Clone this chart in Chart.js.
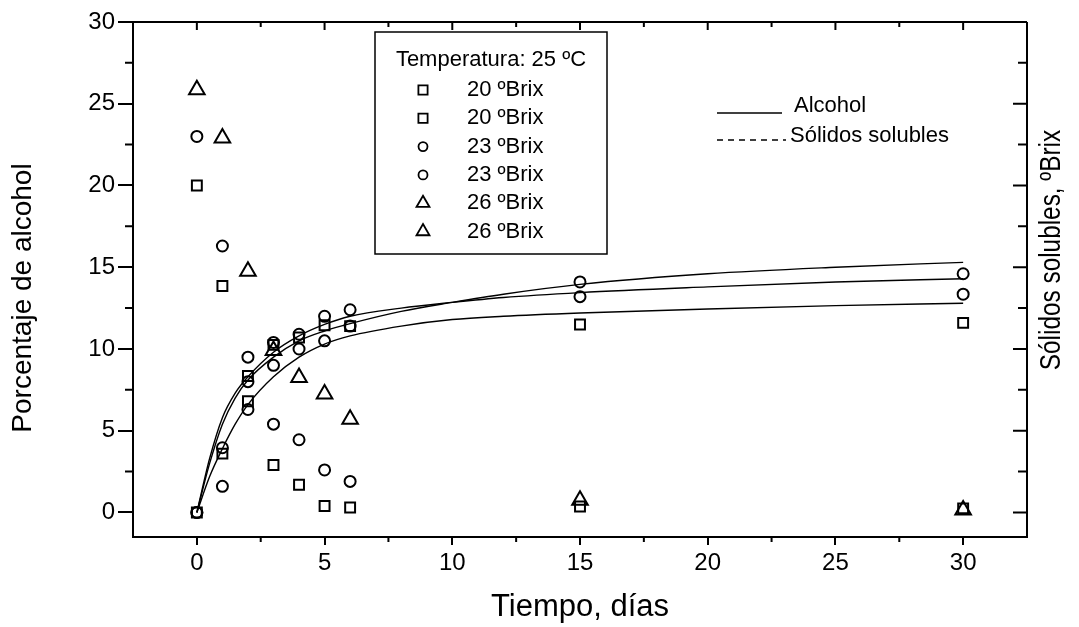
<!DOCTYPE html>
<html>
<head>
<meta charset="utf-8">
<script src="https://cdn.jsdelivr.net/npm/chart.js"></script>
<style>
  html, body { margin: 0; padding: 0; background: #fff; }
  #wrap { width: 1079px; height: 627px; }
</style>
</head>
<body>
<div id="wrap"><canvas id="fermChart" width="1079" height="627"></canvas></div>
<script>
// sampling days (tiempo, días)
var days = [0, 1, 2, 3, 4, 5, 6, 15, 30];

var alc20 = [0, 3.6, 8.35, 10.25, 10.7, 11.45, 11.4, 11.5, 11.6];
var sol20 = [20, 13.85, 6.8, 2.9, 1.7, 0.4, 0.3, 0.37, 0.25];
var alc23 = [0, 3.96, 9.5, 10.4, 10.9, 12.0, 12.4, 14.1, 14.6];
var sol23 = [23, 16.3, 6.3, 5.4, 4.45, 2.6, 1.9, null, null];
var alc26 = [0, 1.6, 8.0, 9.0, 10.0, 10.5, 11.4, 13.2, 13.35];
var sol26 = [25.85, 22.9, 14.75, 9.9, 8.25, 7.25, 5.7, 0.75, 0.15];

// fitted alcohol curves, read at these days
var curveDays = [0, 0.5, 1, 1.5, 2, 3, 4, 5, 6, 8, 10, 12, 15, 20, 25, 30];
var curve20 = [0, 2.2, 3.9, 5.4, 6.6, 8.3, 9.5, 10.3, 10.8, 11.4, 11.8, 12.0, 12.2, 12.45, 12.65, 12.8];
var curve23 = [0, 3.3, 5.8, 7.3, 8.3, 9.8, 10.8, 11.5, 12.0, 12.5, 12.85, 13.15, 13.45, 13.8, 14.1, 14.3];
var curve26 = [0, 3.0, 5.4, 7.0, 8.1, 9.5, 10.5, 11.1, 11.55, 12.3, 12.85, 13.35, 13.95, 14.6, 15.0, 15.3];

var xTicks = [0, 5, 10, 15, 20, 25, 30];
var xTickLabels = ['0', '5', '10', '15', '20', '25', '30'];
var yTicks = [0, 5, 10, 15, 20, 25, 30];
var yTickLabels = ['0', '5', '10', '15', '20', '25', '30'];

var legendTitle = 'Temperatura: 25 ºC';
var legendLabels = ['20 ºBrix', '20 ºBrix', '23 ºBrix', '23 ºBrix', '26 ºBrix', '26 ºBrix'];
var legendMarks = ['rect', 'rect', 'circle', 'circle', 'triangle', 'triangle'];
var lineLabels = ['Alcohol', 'Sólidos solubles'];

var FONT = '"Liberation Sans", Arial, sans-serif';

function pts(xs, ys) {
  return xs.map(function (x, i) { return { x: x, y: ys[i] }; })
           .filter(function (p) { return p.y !== null; });
}

function markers(label, ys, style, r) {
  return {
    type: 'scatter', label: label, data: pts(days, ys),
    pointStyle: style, pointRadius: r, pointHoverRadius: r,
    pointBorderWidth: 2, pointBorderColor: '#000',
    pointBackgroundColor: 'rgba(0,0,0,0)', showLine: false
  };
}

function curve(label, ys) {
  return {
    type: 'line', label: label, data: pts(curveDays, ys),
    borderColor: '#000', borderWidth: 1.4, pointRadius: 0,
    cubicInterpolationMode: 'monotone', fill: false
  };
}

function minorOf(ticks) {
  var out = [];
  for (var i = 0; i < ticks.length - 1; i++) out.push((ticks[i] + ticks[i + 1]) / 2);
  return out;
}

var extras = {
  id: 'extras',
  afterDraw: function (chart) {
    var ctx = chart.ctx, a = chart.chartArea;
    var xs = chart.scales.x, ys = chart.scales.y;
    ctx.save();
    ctx.strokeStyle = '#000';
    ctx.fillStyle = '#000';

    // top and right frame
    ctx.lineWidth = 2;
    ctx.beginPath();
    ctx.moveTo(a.left, a.top); ctx.lineTo(a.right, a.top);
    ctx.moveTo(a.right, a.top); ctx.lineTo(a.right, a.bottom);
    ctx.stroke();

    // ticks on every side
    var xMinor = minorOf(xTicks), yMinor = minorOf(yTicks);
    ctx.beginPath();
    xTicks.forEach(function (v) {
      var px = xs.getPixelForValue(v);
      ctx.moveTo(px, a.top); ctx.lineTo(px, a.top + 8);
    });
    xMinor.forEach(function (v) {
      var px = xs.getPixelForValue(v);
      ctx.moveTo(px, a.top); ctx.lineTo(px, a.top + 5);
      ctx.moveTo(px, a.bottom); ctx.lineTo(px, a.bottom + 5);
    });
    yTicks.forEach(function (v) {
      var py = ys.getPixelForValue(v);
      ctx.moveTo(a.right, py); ctx.lineTo(a.right - 14, py);
    });
    yMinor.forEach(function (v) {
      var py = ys.getPixelForValue(v);
      ctx.moveTo(a.right, py); ctx.lineTo(a.right - 9, py);
      ctx.moveTo(a.left, py); ctx.lineTo(a.left - 8, py);
    });
    ctx.stroke();

    // axis titles (rotated, reading upwards)
    ctx.textAlign = 'center';
    ctx.textBaseline = 'middle';
    ctx.save();
    ctx.translate(23, 298);
    ctx.rotate(-Math.PI / 2);
    ctx.font = '28px ' + FONT;
    ctx.fillText('Porcentaje de alcohol', 0, 0);
    ctx.restore();

    ctx.save();
    ctx.translate(1052, 250);
    ctx.rotate(-Math.PI / 2);
    ctx.scale(0.84, 1);
    ctx.font = '29px ' + FONT;
    ctx.fillText('Sólidos solubles, ºBrix', 0, 0);
    ctx.restore();

    // marker legend box
    ctx.lineWidth = 1.5;
    ctx.fillStyle = '#fff';
    ctx.fillRect(375, 32, 232, 222);
    ctx.strokeRect(375, 32, 232, 222);
    ctx.fillStyle = '#000';
    ctx.font = '22px ' + FONT;
    ctx.textBaseline = 'middle';
    ctx.textAlign = 'center';
    ctx.fillText(legendTitle, 491, 60);
    ctx.textAlign = 'left';
    legendLabels.forEach(function (lab, i) {
      var y = 90 + i * 28.3;
      ctx.save();
      ctx.fillStyle = 'rgba(0,0,0,0)';
      ctx.strokeStyle = '#000';
      ctx.lineWidth = 1.8;
      var r = legendMarks[i] === 'triangle' ? 7.5 : (legendMarks[i] === 'rect' ? 6.5 : 4.5);
      Chart.helpers.drawPoint(ctx, { pointStyle: legendMarks[i], radius: r, rotation: 0, borderWidth: 1.8 }, 423, y);
      ctx.restore();
      ctx.fillText(lab, 467, y);
    });

    // line legend
    ctx.lineWidth = 1.5;
    ctx.beginPath();
    ctx.moveTo(717, 113); ctx.lineTo(782, 113);
    ctx.stroke();
    ctx.setLineDash([6, 5]);
    ctx.beginPath();
    ctx.moveTo(717, 140); ctx.lineTo(786, 140);
    ctx.stroke();
    ctx.setLineDash([]);
    ctx.fillText(lineLabels[0], 794, 106);
    ctx.fillText(lineLabels[1], 790, 136);

    ctx.restore();
  }
};

var ctx = document.getElementById('fermChart').getContext('2d');
var fermChart = new Chart(ctx, {
  type: 'scatter',
  data: {
    datasets: [
      curve('Alcohol 20 ºBrix', curve20),
      curve('Alcohol 23 ºBrix', curve23),
      curve('Alcohol 26 ºBrix', curve26),
      markers('20 ºBrix', alc20, 'rect', 7),
      markers('20 ºBrix', sol20, 'rect', 7),
      markers('23 ºBrix', alc23, 'circle', 5.5),
      markers('23 ºBrix', sol23, 'circle', 5.5),
      markers('26 ºBrix', alc26, 'circle', 5.5),
      markers('26 ºBrix', sol26, 'triangle', 9)
    ]
  },
  options: {
    responsive: false,
    animation: false,
    layout: { padding: { top: 22, right: 52, left: 0, bottom: 0 } },
    plugins: {
      legend: { display: false },
      tooltip: { enabled: false }
    },
    scales: {
      x: {
        type: 'linear', position: 'bottom', min: -2.5, max: 32.5,
        afterBuildTicks: function (s) { s.ticks = xTicks.map(function (v) { return { value: v }; }); },
        afterFit: function (s) { s.height = 90; },
        grid: { display: true, drawOnChartArea: false, drawTicks: true, tickLength: 8, color: '#000', lineWidth: 2 },
        border: { display: true, color: '#000', width: 2 },
        ticks: {
          color: '#000', font: { family: FONT, size: 24 }, padding: 4, maxRotation: 0, autoSkip: false,
          callback: function (v, i) { return xTickLabels[i]; }
        },
        title: { display: true, text: 'Tiempo, días', color: '#000', font: { family: FONT, size: 31 }, padding: { top: 0, bottom: 1 } }
      },
      y: {
        type: 'linear', position: 'left', min: -1.5, max: 30,
        afterBuildTicks: function (s) { s.ticks = yTicks.map(function (v) { return { value: v }; }); },
        afterFit: function (s) { s.width = 133; },
        grid: { display: true, drawOnChartArea: false, drawTicks: true, tickLength: 15, color: '#000', lineWidth: 2 },
        border: { display: true, color: '#000', width: 2 },
        ticks: {
          color: '#000', font: { family: FONT, size: 24 }, padding: 3,
          callback: function (v, i) { return yTickLabels[i]; }
        },
        title: { display: false }
      }
    }
  },
  plugins: [extras]
});
</script>
</body>
</html>
